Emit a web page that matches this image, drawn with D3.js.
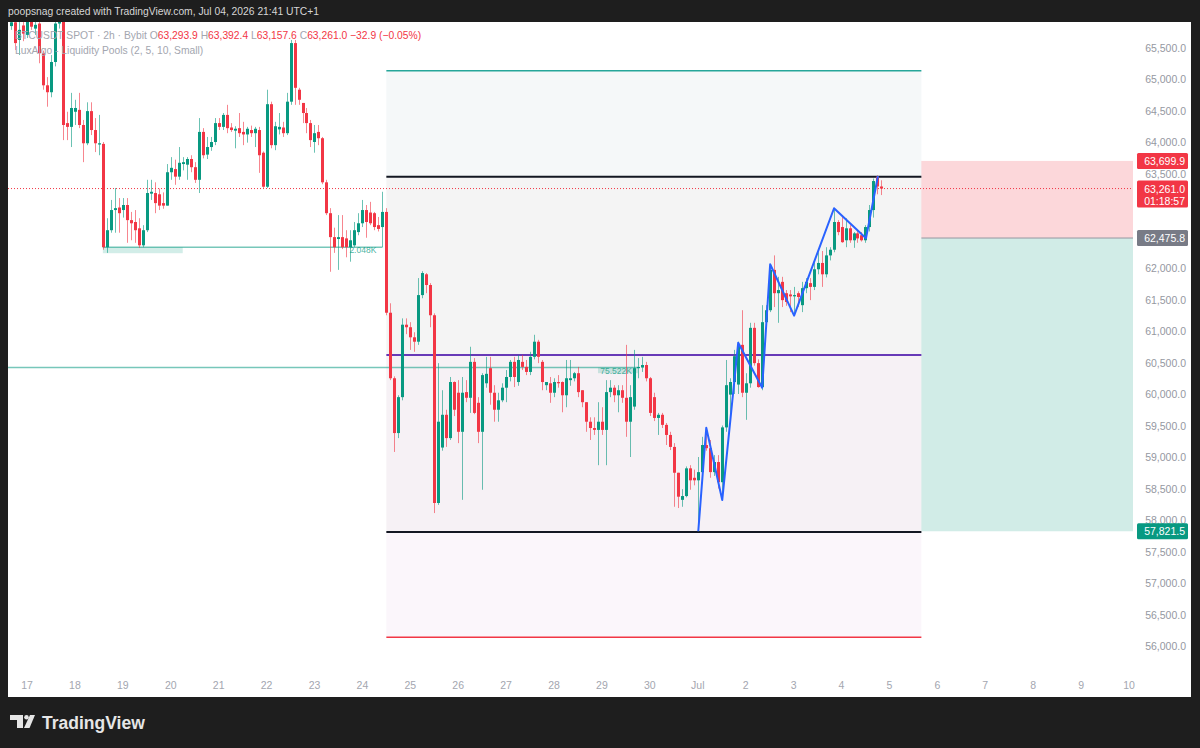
<!DOCTYPE html>
<html lang="en">
<head>
<meta charset="UTF-8">
<title>BTCUSDT SPOT 2h</title>
<script src="https://cdn.jsdelivr.net/npm/d3@7"></script>
<style>
  html, body { margin: 0; padding: 0; background: #1e1e1e; }
  svg { display: block; font-family: "Liberation Sans", Arial, sans-serif; }
</style>
</head>
<body>
<svg id="chart" width="1200" height="748"></svg>
<script>
// 2h bars, first one opens Jun 16 16:00 (chart time), [open, high, low, close]
var firstBar = "2026-06-16 16:00";
var candles = [
  [65840,65990,65780,65900],[65900,65980,65460,65570],[65620,65920,65380,65780],[65850,65950,65600,65720],
  [65700,66000,65650,65920],[65950,66050,65780,65830],[65800,65950,65700,65860],[65880,65950,65250,65410],
  [65410,65450,64830,64900],[64900,65030,64560,64790],[64790,65380,64710,65270],[65270,65950,65200,65880],
  [65880,66100,65800,66000],[65950,66050,64030,64270],[64300,64480,64030,64240],[64240,64780,63920,64540],
  [64480,64670,64270,64540],[64510,64780,64220,64270],[64270,64350,63680,63980],[63980,64630,63950,64490],
  [64490,64630,64110,64190],[64190,64380,63840,63980],[63960,64430,63790,63980],[63970,64000,62290,62330],
  [62330,62790,62240,62600],[62600,63080,62560,62920],[62920,63270,62560,62950],[62960,63110,62560,62870],
  [62920,63110,62800,63000],[63000,63110,62400,62760],[62760,62890,62440,62710],[62730,62920,62400,62600],
  [62630,62790,62320,62360],[62360,62680,62330,62600],[62600,63400,62570,63190],[63180,63400,63080,63210],
  [63190,63360,62870,63030],[63170,63260,62920,62990],[63030,63200,62940,62990],[62990,63650,62990,63520],
  [63520,63760,63400,63590],[63570,63720,63320,63450],[63450,63920,63400,63670],[63650,63760,63550,63680],
  [63640,63760,63400,63730],[63730,63790,63520,63600],[63600,63680,63350,63400],[63400,64380,63190,64160],
  [64160,64220,63740,63790],[63800,64080,63730,63920],[63920,64080,63860,64000],[64000,64380,63950,64300],
  [64300,64380,64190,64240],[64240,64460,64190,64430],[64430,64590,64140,64220],[64230,64300,64160,64190],
  [64180,64250,63900,64210],[64220,64460,64080,64140],[64160,64320,63950,64120],[64120,64240,63990,64210],
  [64190,64260,64080,64140],[64140,64240,63920,64210],[64190,64240,63510,63790],[63830,63850,63260,63290],
  [63290,64830,63270,64600],[64600,64640,63900,63950],[63950,64320,63870,64250],[64200,64460,64120,64240],
  [64230,64320,64080,64140],[64140,64780,64110,64640],[64640,65620,64590,65570],[65570,65620,64590,64860],
  [64830,64860,64590,64670],[64620,64620,64300,64460],[64460,64540,64140,64300],[64300,64350,63920,64030],
  [64000,64270,63830,64140],[64160,64270,63950,64060],[64060,64080,63330,63360],[63360,63400,62840,62870],
  [62870,62950,61940,62490],[62490,62640,62240,62330],[62460,62840,61970,62490],[62490,62840,62300,62330],
  [62470,62600,62170,62330],[62330,62600,62100,62440],[62360,62730,62330,62600],[62570,62870,62520,62710],
  [62710,63080,62650,62920],[62920,63000,62480,62730],[62880,63050,62680,62710],[62870,62890,62600,62650],
  [62680,62810,62580,62620],[62650,63210,62330,62890],
  [62890,62950,61250,61290],[61290,61440,60220,60250],[60250,60280,59080,59380],[59380,59980,59300,59950],
  [59950,61200,59900,61100],[61100,61200,60950,61060],[61060,61140,60700,60900],[60900,60980,60670,60830],
  [60830,61840,60780,61570],[61570,61950,61520,61920],[61900,61920,61600,61730],[61730,61760,61060,61250],
  [61250,61280,58110,58270],[58270,60490,58240,59560],[59150,60060,59100,59670],[59670,59750,59160,59300],
  [59300,60270,59270,60190],[60190,60200,59650,59750],[60020,60220,59220,59400],[59400,60270,58320,60020],
  [60030,60220,59870,59940],[59940,60750,59700,60510],[60510,60570,59680,59700],[59860,59950,59220,59400],
  [59400,60330,58480,60300],[60170,60590,60100,60320],[60410,60590,59830,60020],[60020,60140,59560,59750],
  [59750,60020,59560,59900],[59900,60170,59870,60100],[60100,60380,59870,60270],[60270,60540,60200,60510],
  [60510,60590,60110,60270],[60190,60620,60130,60540],[60510,60620,60380,60430],[60430,60540,60300,60350],
  [60350,60670,60300,60590],[60590,60940,60550,60830],[60830,60860,60490,60590],[60510,60540,60060,60190],
  [60140,60190,60060,60190],[60170,60270,59860,60020],[60020,60250,59950,60190],[60190,60300,60100,60170],
  [60190,60200,59710,59980],[59980,60540,59790,60250],[60220,60540,60130,60250],[60250,60350,60200,60330],
  [60330,60430,59950,60030],[60060,60060,59790,59870],[59870,59870,59400,59560],[59560,59630,59270,59460],
  [59460,59630,59350,59430],[59430,59870,58870,59560],[59560,59790,59350,59430],[59430,60220,58870,60030],
  [60030,60220,59950,60100],[60100,60140,59870,59980],[59980,60140,59710,60060],[60060,60140,59860,59940],
  [59940,60780,59320,59560],[59560,60140,59000,59950],[59800,60700,59750,60410],[60410,60570,60250,60430],
  [60420,60590,60350,60460],[60460,60510,60200,60250],[60250,60270,59650,59700],[59950,60020,59570,59620],
  [59620,59700,59350,59670],[59670,59700,59460,59510],[59510,59540,59190,59350],[59350,59400,59110,59160],
  [59160,59220,58210,58750],[58750,58750,58190,58370],
  [58320,58490,58210,58380],[58380,58850,58360,58820],[58820,58870,58480,58630],[58670,58800,58550,58630],
  [58630,59000,57821.5,58760],[58760,59320,58700,59190],[59190,59460,59100,59140],[59140,59270,58670,58760],
  [58760,59030,58700,58920],[58920,59030,58500,58600],[58600,59500,58320,59470],[59470,60540,59400,60140],
  [59990,60250,59700,60190],[60190,60700,60000,60600],[60150,60830,60000,60780],[60780,61330,59950,60020],
  [60020,60330,59590,60170],[60170,61130,60100,61050],[61050,61130,60450,60490],[60490,60550,60100,60110],
  [60110,61410,60060,61140],[61140,61410,61050,61330],[61330,62060,61300,61970],[61970,62200,61380,61600],
  [61600,61860,61130,61650],[61780,61860,61380,61490],[61600,61650,61400,61460],[61580,61650,61300,61550],
  [61550,61700,61240,61570],[61600,61630,61380,61540],[61410,61780,61300,61680],[61680,61840,61600,61780],
  [61760,61840,61490,61700],[61700,62080,61650,61980],[61980,62250,61900,62080],[62080,62270,61700,61900],
  [61900,62330,61850,62200],[62200,62330,62120,62290],[62290,62950,62250,62730],[62730,62760,62520,62570],
  [62650,62840,62400,62410],[62440,62790,62330,62630],[62630,62680,62400,62440],[62440,62570,62320,62550],
  [62550,62600,62400,62470],[62520,62570,62420,62440],[62440,62680,62400,62650],[62650,63000,62580,62920],
  [62920,63420,62800,63380],[63450,63470,63170,63294],[63293.9,63392.4,63157.6,63261.0]
];

// zigzag drawn over the last leg: bar index and price
var zigzagBars = [172, 174, 178, 182, 188, 190, 196, 206, 214, 217];
var zigzagPrices = [57821.5, 59465, 58317, 60814, 60100, 62059, 61243, 62948, 62471, 63460];

// range drawing: levels from top to bottom
var rangeLevels = [65130, 63450, 60620, 57810, 56140];
var rangeFrom = "2026-06-24 12:00", rangeTo = "2026-07-05 16:00";

// short position tool
var posStop = 63699.9, posEntry = 62475.8, posTarget = 57821.5;
var posFrom = "2026-07-05 16:00", posTo = "2026-07-10 02:00";

// liquidity pools
var poolPrices = [62330, 60420];
var poolBottoms = [62235, 60330];
var poolLineFrom = ["2026-06-18 14:00", "2026-06-16 08:00"];
var poolLineTo = ["2026-06-24 10:00", "2026-06-29 18:00"];
var poolZoneFrom = ["2026-06-18 14:00", "2026-06-28 22:00"];
var poolZoneTo = ["2026-06-20 06:00", "2026-06-29 18:00"];
var poolLabels = ["2.048K", "75.522K"];

var lastPrice = 63261.0;
var countdown = "01:18:57";

var priceTicks = [56000, 56500, 57000, 57500, 58000, 58500, 59000, 59500, 60000, 60500,
  61000, 61500, 62000, 62500, 63000, 63500, 64000, 64500, 65000, 65500];
var tickDates = ["2026-06-17", "2026-06-18", "2026-06-19", "2026-06-20", "2026-06-21", "2026-06-22",
  "2026-06-23", "2026-06-24", "2026-06-25", "2026-06-26", "2026-06-27", "2026-06-28", "2026-06-29",
  "2026-06-30", "2026-07-01", "2026-07-02", "2026-07-03", "2026-07-04", "2026-07-05", "2026-07-06",
  "2026-07-07", "2026-07-08", "2026-07-09", "2026-07-10"];
var tickLabels = ["17", "18", "19", "20", "21", "22", "23", "24", "25", "26", "27", "28", "29",
  "30", "Jul", "2", "3", "4", "5", "6", "7", "8", "9", "10"];

var up = "#089981", down = "#f23645";
var parseT = d3.utcParse("%Y-%m-%d %H:%M");
var parseD = d3.utcParse("%Y-%m-%d");
var t0 = parseT(firstBar);
var barTime = function(i) { return new Date(t0.getTime() + i * 7200000); };

var svg = d3.select("#chart");

// panel + plot box
var plot = { left: 8, right: 1133, top: 22, bottom: 669 };
svg.append("rect").attr("x", 8).attr("y", 22).attr("width", 1183).attr("height", 675).attr("fill", "#ffffff");

var x = d3.scaleUtc()
  .domain([parseD("2026-06-17"), parseD("2026-07-10")])
  .range([27, 1129]);
var y = d3.scaleLinear().domain([56000, 65500]).range([646, 47.5]);

svg.append("clipPath").attr("id", "clip").append("rect")
  .attr("x", plot.left).attr("y", plot.top)
  .attr("width", plot.right - plot.left).attr("height", plot.bottom - plot.top);

var g = svg.append("g").attr("clip-path", "url(#clip)");

// range drawing bands
var rx0 = x(parseT(rangeFrom)), rx1 = x(parseT(rangeTo));
var bandFills = ["#f5f8f9", "#f4f4f4", "#f6f1f5", "#fbf6fb"];
for (var b = 0; b < rangeLevels.length - 1; b++) {
  g.append("rect")
    .attr("x", rx0).attr("width", rx1 - rx0)
    .attr("y", y(rangeLevels[b])).attr("height", y(rangeLevels[b + 1]) - y(rangeLevels[b]))
    .attr("fill", bandFills[b]);
}

// position tool
var px0 = x(parseT(posFrom)), px1 = x(parseT(posTo));
g.append("rect").attr("x", px0).attr("width", px1 - px0)
  .attr("y", y(posStop)).attr("height", y(posEntry) - y(posStop))
  .attr("fill", down).attr("fill-opacity", 0.2);
g.append("rect").attr("x", px0).attr("width", px1 - px0)
  .attr("y", y(posEntry)).attr("height", y(posTarget) - y(posEntry))
  .attr("fill", up).attr("fill-opacity", 0.19);
g.append("line").attr("x1", px0).attr("x2", px1)
  .attr("y1", y(posEntry)).attr("y2", y(posEntry))
  .attr("stroke", "#9598a1").attr("stroke-width", 1);

// liquidity pools
poolPrices.forEach(function(p, k) {
  g.append("rect")
    .attr("x", x(parseT(poolZoneFrom[k])))
    .attr("width", x(parseT(poolZoneTo[k])) - x(parseT(poolZoneFrom[k])))
    .attr("y", y(p)).attr("height", y(poolBottoms[k]) - y(p))
    .attr("fill", up).attr("fill-opacity", 0.18);
  g.append("line")
    .attr("x1", x(parseT(poolLineFrom[k]))).attr("x2", x(parseT(poolLineTo[k])))
    .attr("y1", y(p)).attr("y2", y(p))
    .attr("stroke", up).attr("stroke-opacity", 0.55).attr("stroke-width", 1.5);
  g.append("text")
    .attr("x", x(parseT(poolLineTo[k])) - 6).attr("y", y(p) + 6)
    .attr("text-anchor", "end").attr("font-size", 8.5)
    .attr("fill", up).attr("fill-opacity", 0.75)
    .text(poolLabels[k]);
});

// legend
var legend = svg.append("text").attr("x", 15).attr("y", 39).attr("font-size", 10.3);
var gray = "#a3a6af";
[["BTCUSDT SPOT · 2h · Bybit ", gray], ["O", gray], ["63,293.9 ", down], ["H", gray], ["63,392.4 ", down],
 ["L", gray], ["63,157.6 ", down], ["C", gray], ["63,261.0 ", down], ["−32.9 (−0.05%)", down]]
  .forEach(function(s) { legend.append("tspan").attr("fill", s[1]).attr("xml:space", "preserve").text(s[0]); });
svg.append("text").attr("x", 15).attr("y", 54).attr("font-size", 10.3).attr("fill", gray)
  .text("LuxAlgo - Liquidity Pools (2, 5, 10, Small)");

// last price dotted line
g.append("line").attr("x1", plot.left).attr("x2", plot.right)
  .attr("y1", y(lastPrice)).attr("y2", y(lastPrice))
  .attr("stroke", down).attr("stroke-width", 1).attr("stroke-dasharray", "1,2");

// range lines
var rangeColors = ["#26a69a", "#131722", "#673ab7", "#131722", "#f23645"];
var rangeWidths = [1.5, 2, 2, 2, 1.5];
rangeLevels.forEach(function(p, k) {
  g.append("line").attr("x1", rx0).attr("x2", rx1)
    .attr("y1", y(p)).attr("y2", y(p))
    .attr("stroke", rangeColors[k]).attr("stroke-width", rangeWidths[k]);
});

// candles
var bars = g.append("g").selectAll("g").data(candles).enter().append("g")
  .attr("transform", function(d, i) { return "translate(" + Math.round(x(barTime(i))) + ",0)"; });
bars.append("line")
  .attr("x1", 0.5).attr("x2", 0.5)
  .attr("y1", function(d) { return y(d[1]); })
  .attr("y2", function(d) { return y(d[2]); })
  .attr("stroke", function(d) { return d[3] >= d[0] ? up : down; })
  .attr("stroke-opacity", 0.6);
bars.append("rect")
  .attr("x", -1).attr("width", 3)
  .attr("y", function(d) { return y(Math.max(d[0], d[3])); })
  .attr("height", function(d) { return Math.max(1, Math.abs(y(d[0]) - y(d[3]))); })
  .attr("fill", function(d) { return d[3] >= d[0] ? up : down; });

// zigzag
g.append("path")
  .datum(zigzagBars.map(function(b, k) { return [x(barTime(b)) + 0.5, y(zigzagPrices[k])]; }))
  .attr("d", d3.line())
  .attr("fill", "none").attr("stroke", "#2962ff").attr("stroke-width", 2).attr("stroke-linejoin", "round");

// price tags on the axis cover the tick labels beneath them
var tags = [
  { p: posStop, color: down, h: 16 },
  { p: lastPrice, color: down, h: 27, sub: countdown },
  { p: posEntry, color: "#787b86", h: 16 },
  { p: posTarget, color: up, h: 16 }
];
var covered = function(tick) {
  var ty = y(tick);
  return tags.some(function(t) { var top = y(t.p) - 8; return ty + 3 > top && ty - 4 < top + t.h; });
};

svg.append("g").selectAll("text").data(priceTicks.filter(function(d) { return !covered(d); }))
  .enter().append("text")
  .attr("x", 1186).attr("y", function(d) { return y(d) + 4; })
  .attr("text-anchor", "end").attr("font-size", 10.5).attr("fill", "#9598a1")
  .text(d3.format(",.1f"));

tags.forEach(function(t) {
  var yy = y(t.p);
  svg.append("rect").attr("x", 1137).attr("y", yy - 8).attr("width", 51).attr("height", t.h)
    .attr("rx", 1.5).attr("fill", t.color);
  svg.append("text").attr("x", 1185).attr("y", yy + 4).attr("text-anchor", "end")
    .attr("font-size", 10.5).attr("fill", "#ffffff").text(d3.format(",.1f")(t.p));
  if (t.sub) {
    svg.append("text").attr("x", 1185).attr("y", yy + 16).attr("text-anchor", "end")
      .attr("font-size", 10.5).attr("fill", "#ffffff").text(t.sub);
  }
});

// time axis
svg.append("g").selectAll("text").data(tickDates).enter().append("text")
  .attr("x", function(d) { return x(parseD(d)); })
  .attr("y", 689).attr("text-anchor", "middle").attr("font-size", 10.5).attr("fill", "#a3a6af")
  .text(function(d, i) { return tickLabels[i]; });

// header and footer
svg.append("text").attr("x", 8).attr("y", 15).attr("font-size", 10.3).attr("fill", "#d6d6d6")
  .text("poopsnag created with TradingView.com, Jul 04, 2026 21:41 UTC+1");

var logo = svg.append("g").attr("fill", "#e6e6e6");
logo.append("path").attr("d", "M10,715 H23 V728 H17 V720 H10 Z");
logo.append("circle").attr("cx", 26.5).attr("cy", 717.3).attr("r", 2.3);
logo.append("path").attr("d", "M30,715 H35 L29.5,728 H24 Z");
svg.append("text").attr("x", 42).attr("y", 729).attr("font-size", 17.5).attr("font-weight", 600)
  .attr("fill", "#e6e6e6").text("TradingView");
</script>
</body>
</html>
